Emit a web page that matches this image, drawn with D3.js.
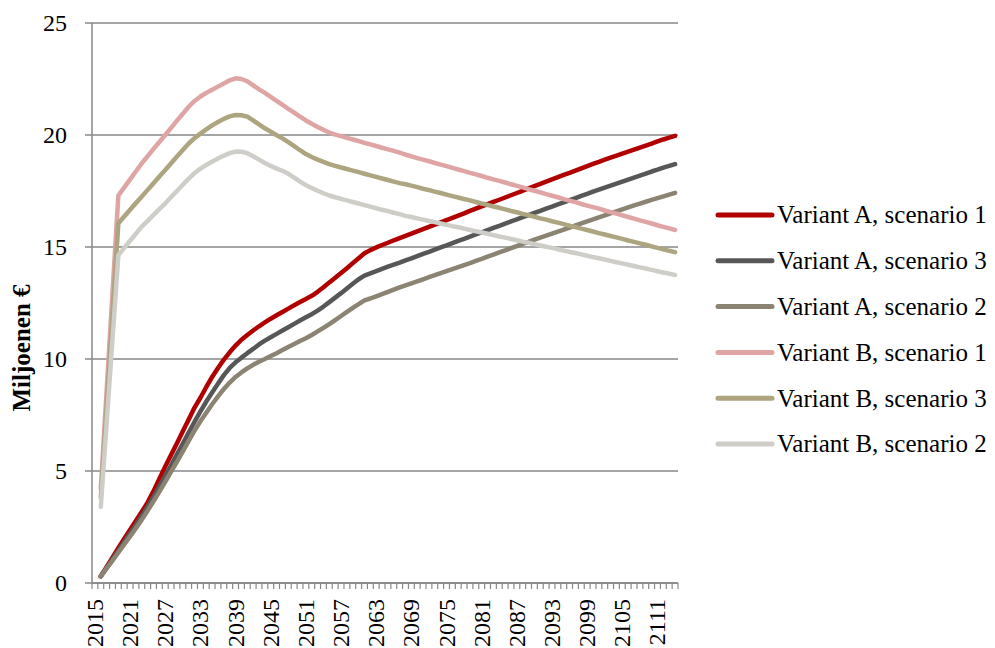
<!DOCTYPE html>
<html>
<head>
<meta charset="utf-8">
<script src="https://cdn.jsdelivr.net/npm/d3@7"></script>
<style>
  html, body { margin: 0; padding: 0; background: #fff; }
  svg { display: block; }
  text { font-family: "Liberation Serif", "Times New Roman", serif; fill: #000; }
</style>
</head>
<body>
<svg id="chart" width="995" height="648"></svg>
<script>
// ---- Data ----
const years = d3.range(2015, 2115);   // categories 2015..2114
const xTickLabels = ["2015","2021","2027","2033","2039","2045","2051","2057","2063","2069","2075","2081","2087","2093","2099","2105","2111"];
const yTickValues = [0, 5, 10, 15, 20, 25];
const yTitle = "Miljoenen €";

const seriesNames = ["Variant A, scenario 1","Variant A, scenario 3","Variant A, scenario 2","Variant B, scenario 1","Variant B, scenario 3","Variant B, scenario 2"];
const seriesColors = ["#b00000","#575757","#8c8473","#dfa4a4","#aca57f","#cfcdc8"];

const variantA1 = [null,0.30,0.72,1.14,1.56,1.98,2.38,2.78,3.18,3.60,4.10,
4.65,5.20,5.72,6.24,6.77,7.30,7.83,8.27,8.75,9.20,
9.60,9.97,10.30,10.60,10.86,11.07,11.27,11.46,11.63,11.80,
11.95,12.10,12.25,12.40,12.54,12.68,12.82,13.00,13.20,13.42,
13.63,13.84,14.05,14.28,14.50,14.72,14.86,14.98,15.09,15.19,
15.30,15.40,15.50,15.60,15.70,15.80,15.90,16.00,16.10,16.20,
16.30,16.40,16.50,16.61,16.71,16.81,16.91,17.01,17.11,17.21,
17.31,17.41,17.51,17.62,17.72,17.82,17.92,18.02,18.12,18.22,
18.31,18.41,18.51,18.61,18.71,18.80,18.90,18.99,19.08,19.17,
19.26,19.35,19.44,19.53,19.62,19.71,19.80,19.88,19.96];

const variantA3 = [null,0.30,0.68,1.06,1.45,1.84,2.22,2.60,3.00,3.42,3.86,
4.32,4.78,5.25,5.74,6.23,6.72,7.20,7.66,8.10,8.50,
8.90,9.28,9.60,9.85,10.06,10.26,10.45,10.65,10.82,10.97,
11.12,11.27,11.42,11.57,11.72,11.86,12.00,12.16,12.34,12.54,
12.74,12.94,13.15,13.36,13.56,13.72,13.82,13.92,14.02,14.12,
14.21,14.30,14.40,14.49,14.59,14.69,14.78,14.88,14.98,15.07,
15.17,15.27,15.36,15.46,15.56,15.65,15.75,15.85,15.94,16.04,
16.14,16.23,16.33,16.42,16.52,16.61,16.71,16.80,16.90,16.99,
17.09,17.18,17.28,17.37,17.47,17.56,17.65,17.74,17.83,17.92,
18.01,18.10,18.19,18.28,18.37,18.45,18.54,18.62,18.70];

const variantA2 = [null,0.30,0.65,1.00,1.36,1.72,2.08,2.45,2.83,3.23,3.65,
4.08,4.52,4.97,5.42,5.88,6.34,6.80,7.22,7.60,7.98,
8.33,8.66,8.95,9.20,9.40,9.58,9.74,9.88,10.00,10.13,
10.26,10.40,10.54,10.67,10.80,10.93,11.07,11.23,11.39,11.56,
11.74,11.92,12.10,12.28,12.45,12.62,12.70,12.80,12.90,13.00,
13.10,13.20,13.29,13.38,13.47,13.56,13.65,13.74,13.83,13.92,
14.01,14.10,14.19,14.28,14.38,14.47,14.57,14.66,14.76,14.85,
14.95,15.04,15.14,15.23,15.33,15.42,15.51,15.60,15.69,15.78,
15.87,15.96,16.05,16.14,16.23,16.32,16.41,16.50,16.59,16.68,
16.77,16.86,16.94,17.02,17.10,17.18,17.26,17.34,17.42];

const variantB1 = [null,4.20,8.60,12.95,17.30,17.66,18.02,18.38,18.74,19.06,19.38,
19.69,20.00,20.32,20.64,20.95,21.26,21.52,21.72,21.88,22.02,
22.16,22.30,22.44,22.53,22.50,22.40,22.22,22.04,21.88,21.70,
21.52,21.35,21.17,21.00,20.82,20.65,20.50,20.36,20.23,20.11,
20.02,19.95,19.87,19.80,19.73,19.65,19.58,19.51,19.43,19.36,
19.29,19.21,19.12,19.05,18.97,18.90,18.83,18.75,18.68,18.61,
18.53,18.46,18.39,18.31,18.24,18.17,18.09,18.02,17.95,17.88,
17.80,17.73,17.66,17.58,17.51,17.44,17.36,17.29,17.22,17.14,
17.07,17.00,16.92,16.85,16.78,16.71,16.63,16.56,16.49,16.41,
16.34,16.27,16.19,16.12,16.05,15.97,15.90,15.83,15.76];

const variantB3 = [null,3.80,7.89,11.97,16.06,16.36,16.66,16.96,17.25,17.55,17.85,
18.15,18.44,18.74,19.04,19.33,19.62,19.86,20.06,20.25,20.43,
20.58,20.72,20.83,20.89,20.88,20.82,20.65,20.47,20.30,20.15,
19.99,19.85,19.68,19.50,19.32,19.15,19.02,18.90,18.80,18.70,
18.62,18.55,18.48,18.41,18.34,18.27,18.20,18.13,18.06,17.99,
17.92,17.85,17.80,17.74,17.67,17.60,17.54,17.47,17.41,17.34,
17.27,17.21,17.14,17.08,17.01,16.94,16.88,16.81,16.75,16.68,
16.61,16.55,16.48,16.42,16.35,16.28,16.22,16.15,16.09,16.02,
15.95,15.89,15.82,15.76,15.69,15.62,15.56,15.49,15.43,15.36,
15.29,15.23,15.16,15.10,15.03,14.96,14.90,14.83,14.77];

const variantB2 = [null,3.40,7.15,10.90,14.64,14.96,15.28,15.60,15.91,16.17,16.43,
16.69,16.95,17.23,17.50,17.78,18.05,18.30,18.50,18.66,18.81,
18.95,19.08,19.19,19.26,19.25,19.19,19.05,18.90,18.75,18.62,
18.50,18.40,18.27,18.10,17.92,17.76,17.63,17.51,17.40,17.30,
17.22,17.15,17.08,17.01,16.94,16.87,16.80,16.73,16.66,16.60,
16.53,16.47,16.39,16.34,16.28,16.22,16.16,16.11,16.05,15.99,
15.93,15.88,15.82,15.76,15.70,15.65,15.59,15.53,15.47,15.42,
15.36,15.30,15.24,15.19,15.13,15.07,15.01,14.96,14.90,14.84,
14.78,14.73,14.67,14.61,14.55,14.50,14.44,14.38,14.32,14.27,
14.21,14.15,14.09,14.04,13.98,13.92,13.86,13.81,13.75];

const seriesValues = [variantA1, variantA3, variantA2, variantB1, variantB3, variantB2];

// ---- Layout ----
const plot = { left: 92, right: 678, top: 23, bottom: 583 };
const svg = d3.select("#chart");

const x = d3.scaleBand().domain(years).range([plot.left, plot.right]).paddingInner(0).paddingOuter(0);
const xc = yr => x(yr) + x.bandwidth() / 2;
const y = d3.scaleLinear().domain([0, 25]).range([plot.bottom, plot.top]);

const gridColor = "#878787";

// gridlines
svg.append("g").selectAll("line").data(yTickValues).join("line")
  .attr("x1", plot.left - 7).attr("x2", plot.right)
  .attr("y1", d => y(d)).attr("y2", d => y(d))
  .attr("stroke", gridColor).attr("stroke-width", 1.5);

// y axis line
svg.append("line")
  .attr("x1", plot.left).attr("x2", plot.left)
  .attr("y1", plot.top).attr("y2", plot.bottom)
  .attr("stroke", gridColor).attr("stroke-width", 1.5);

// y tick labels
svg.append("g").selectAll("text").data(yTickValues).join("text")
  .attr("x", 67).attr("y", d => y(d) + 8)
  .attr("text-anchor", "end")
  .style("font-size", "24px")
  .text(d => d);

// x axis line + minor ticks between categories
svg.append("line")
  .attr("x1", plot.left).attr("x2", plot.right)
  .attr("y1", plot.bottom).attr("y2", plot.bottom)
  .attr("stroke", gridColor).attr("stroke-width", 1.5);

const tickPositions = years.map(d => x(d)).concat([plot.right]);
svg.append("g").selectAll("line").data(tickPositions).join("line")
  .attr("x1", d => d).attr("x2", d => d)
  .attr("y1", plot.bottom).attr("y2", plot.bottom + 6)
  .attr("stroke", gridColor).attr("stroke-width", 1.2);

// x tick labels (rotated)
svg.append("g").selectAll("text").data(xTickLabels).join("text")
  .attr("transform", d => `translate(${xc(+d) + 8},${599}) rotate(-90)`)
  .attr("text-anchor", "end")
  .style("font-size", "24px")
  .text(d => d);

// y title
svg.append("text")
  .attr("transform", `translate(30,348) rotate(-90)`)
  .attr("text-anchor", "middle")
  .style("font-size", "25px")
  .style("font-weight", "bold")
  .text(yTitle);

// lines
const line = d3.line()
  .defined(d => d.v !== null)
  .x(d => xc(d.year))
  .y(d => y(d.v));

seriesValues.forEach((vals, i) => {
  const pts = years.map((yr, j) => ({ year: yr, v: vals[j] }));
  svg.append("path")
    .datum(pts)
    .attr("d", line)
    .attr("fill", "none")
    .attr("stroke", seriesColors[i])
    .attr("stroke-width", 4.5)
    .attr("stroke-linejoin", "round")
    .attr("stroke-linecap", "round");
});

// legend
const legendY = d3.scaleLinear().domain([0, 5]).range([215, 444]);
const lg = svg.append("g");
seriesNames.forEach((name, i) => {
  const ly = legendY(i);
  lg.append("line")
    .attr("x1", 718).attr("x2", 772)
    .attr("y1", ly).attr("y2", ly)
    .attr("stroke", seriesColors[i])
    .attr("stroke-width", 5)
    .attr("stroke-linecap", "round");
  lg.append("text")
    .attr("x", 777).attr("y", ly + 8.3)
    .style("font-size", "25px")
    .text(name);
});
</script>
</body>
</html>
